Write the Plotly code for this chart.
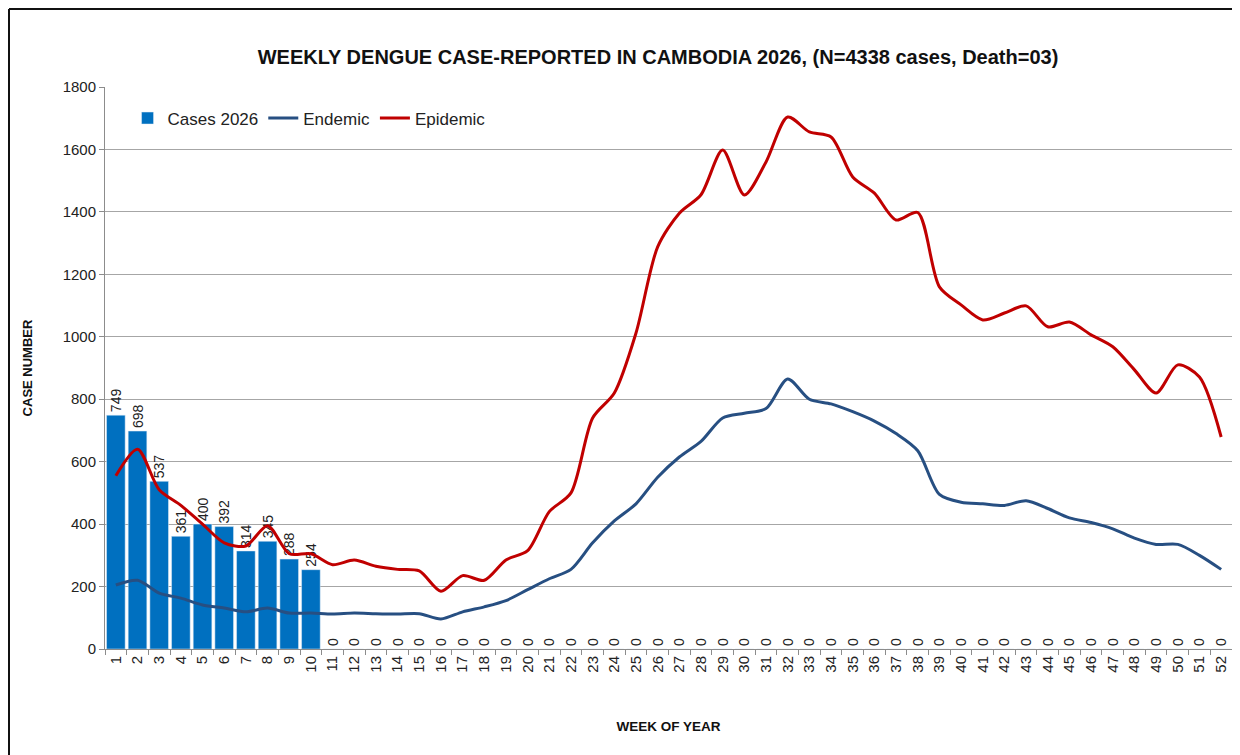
import plotly.graph_objects as go

# weekly data
weeks = [str(w) for w in range(1, 53)]

cases_2026 = [749, 698, 537, 361, 400, 392, 314, 345, 288, 254] + [0] * 42

endemic = [205, 220, 179, 163, 141, 131, 119, 131, 115, 115,
           112, 115, 113, 112, 113, 96, 119, 135, 155, 190,
           225, 255, 340, 410, 465, 550, 615, 665, 740, 755,
           770, 865, 800, 785, 760, 730, 690, 635, 495, 470,
           465, 460, 475, 450, 420, 405, 385, 355, 335, 335,
           300, 255]

epidemic = [555, 640, 510, 460, 400, 340, 330, 395, 305, 305,
            270, 285, 265, 255, 250, 185, 235, 220, 285, 315,
            440, 500, 740, 820, 1012, 1288, 1396, 1455, 1598, 1454,
            1560, 1704, 1656, 1640, 1512, 1460, 1374, 1398, 1160, 1102,
            1054, 1076, 1099, 1032, 1047, 1006, 968, 894, 820, 910,
            871, 679]

title = "WEEKLY DENGUE CASE-REPORTED IN CAMBODIA 2026, (N=4338 cases, Death=03)"

FONT = "Liberation Sans"

# the page body has an 8px margin, so margins are set relative to that
W, H = 1240, 755
L, R, T, B = 97, 16, 79, 114
pw, ph = W - L - R, H - T - B

fig = go.Figure()

fig.add_trace(go.Bar(
    x=weeks, y=cases_2026, name="Cases 2026",
    marker=dict(color="#0070C0"),
    text=[str(v) for v in cases_2026], textposition="outside",
    textangle=-90, textfont=dict(size=14, color="#222222", family=FONT),
    constraintext="none", cliponaxis=False,
))
fig.add_trace(go.Scatter(
    x=weeks, y=endemic, name="Endemic", mode="lines",
    line=dict(color="#274F82", width=3, shape="spline", smoothing=0.8),
))
fig.add_trace(go.Scatter(
    x=weeks, y=epidemic, name="Epidemic", mode="lines",
    line=dict(color="#C00000", width=3, shape="spline", smoothing=0.8),
))

fig.update_layout(
    width=W, height=H,
    paper_bgcolor="white", plot_bgcolor="white",
    margin=dict(l=L, r=R, t=T, b=B),
    font=dict(family=FONT, color="#111111"),
    title=dict(text="<b>" + title + "</b>", x=650 / W, xanchor="center",
               y=1 - 49 / H, yanchor="middle", font=dict(size=20, color="#111111")),
    bargap=0.14,
    legend=dict(orientation="h", x=0.02, y=0.976, xanchor="left", yanchor="top",
                bgcolor="rgba(0,0,0,0)", font=dict(size=17, color="#222222"),
                traceorder="normal"),
    showlegend=True,
)

fig.update_xaxes(
    type="category", tickangle=-90, tickfont=dict(size=15, color="#222222"),
    showline=True, linecolor="#8c8c8c", linewidth=1,
    ticks="outside", ticklen=5, tickcolor="#8c8c8c", tickson="boundaries",
    showgrid=False,
    title=dict(text="<b>WEEK OF YEAR</b>", font=dict(size=13.5, color="#111111"), standoff=49),
)
fig.update_yaxes(
    range=[0, 1800], dtick=200, tickfont=dict(size=15, color="#222222"),
    showline=True, linecolor="#8c8c8c", linewidth=1,
    ticks="outside", ticklen=5, tickcolor="#8c8c8c",
    showgrid=True, gridcolor="#a6a6a6", gridwidth=1,
    zeroline=False,
    title=dict(text="<b>CASE NUMBER</b>", font=dict(size=13, color="#111111"), standoff=27),
)

# outer frame of the chart (left/top black, right grey)
fig.add_shape(type="line", xref="paper", yref="paper",
              x0=(1 - L) / pw, x1=(1 - L) / pw, y0=1 + (T - 1) / ph, y1=-(B + 20) / ph,
              line=dict(color="#111111", width=2))
fig.add_shape(type="line", xref="paper", yref="paper",
              x0=(1 - L) / pw, x1=(1230 - L) / pw, y0=1 + (T - 1) / ph, y1=1 + (T - 1) / ph,
              line=dict(color="#111111", width=2))
fig.add_shape(type="line", xref="paper", yref="paper",
              x0=(1230 - L) / pw, x1=(1230 - L) / pw, y0=1 + (T - 1) / ph, y1=-(B + 20) / ph,
              line=dict(color="#7f7f7f", width=1.5))

fig.write_html("out.html")
